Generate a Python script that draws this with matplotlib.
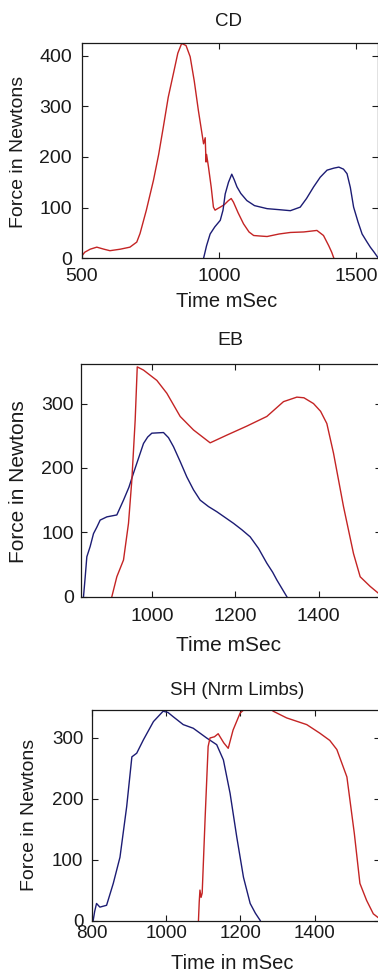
import matplotlib
matplotlib.use("Agg")
import matplotlib.pyplot as plt

plt.rcParams['font.family'] = ['Liberation Sans', 'DejaVu Sans']

RED = '#c42424'
BLUE = '#1c1c74'
TXT = '#1a1a1a'

# ---- Panel 1: CD ----
cd_red_x = [500, 510, 530, 554, 580, 602, 640, 675, 700, 712, 735, 761, 780, 797, 815, 834, 850, 864,
            880, 895, 910, 925, 944, 950, 953, 955, 962, 972, 980, 986, 995, 1005, 1020, 1035, 1045,
            1053, 1070, 1090, 1110, 1127, 1150, 1176, 1220, 1261, 1310, 1358, 1382, 1401, 1412, 1420]
cd_red_y = [5, 12, 18, 22, 18, 15, 18, 22, 32, 49, 95, 154, 205, 259, 318, 365, 405, 424,
            420, 398, 350, 292, 226, 238, 190, 205, 180, 140, 101, 95, 98, 101, 106, 114, 118,
            111, 90, 68, 52, 45, 44, 43, 48, 51, 52, 55, 45, 25, 12, 0]
cd_blue_x = [944, 955, 968, 985, 1005, 1015, 1023, 1035, 1047, 1056, 1066, 1080, 1102, 1130, 1176,
             1220, 1261, 1297, 1320, 1346, 1370, 1395, 1420, 1438, 1455, 1468, 1480, 1492, 1508,
             1523, 1540, 1553, 1567, 1580]
cd_blue_y = [0, 25, 48, 62, 75, 95, 127, 150, 166, 155, 141, 128, 114, 104, 98,
             96, 94, 101, 118, 141, 160, 174, 178, 180, 176, 167, 140, 101, 72,
             48, 33, 22, 12, 2]

# ---- Panel 2: EB ----
eb_blue_x = [836, 840, 844, 852, 860, 868, 876, 892, 916, 932, 945, 956, 968, 980, 990, 1000, 1028,
             1040, 1052, 1068, 1084, 1100, 1116, 1136, 1156, 1176, 1196, 1216, 1236, 1256, 1276,
             1290, 1300, 1312, 1324]
eb_blue_y = [0, 30, 62, 78, 98, 108, 119, 124, 127, 150, 170, 192, 215, 238, 248, 254, 255,
             247, 233, 210, 186, 166, 150, 140, 132, 123, 114, 104, 93, 75, 52,
             38, 26, 13, 0]
eb_red_x = [904, 916, 932, 944, 952, 960, 965, 980, 1012, 1036, 1068, 1100, 1140, 1180, 1228,
            1276, 1316, 1348, 1365, 1388, 1405, 1420, 1436, 1460, 1484, 1500, 1524, 1550]
eb_red_y = [0, 31, 57, 114, 181, 274, 357, 352, 336, 316, 280, 259, 239, 251, 265,
            280, 303, 310, 309, 300, 288, 269, 223, 140, 67, 31, 16, 2]

# ---- Panel 3: SH (Nrm Limbs) ----
sh_blue_x = [804, 808, 813, 822, 840, 858, 876, 894, 908, 921, 939, 966, 992, 1005, 1019, 1046,
             1073, 1109, 1136, 1154, 1172, 1190, 1208, 1226, 1240, 1253]
sh_blue_y = [0, 15, 28, 22, 25, 61, 104, 187, 269, 275, 297, 327, 344, 342, 335, 322,
             316, 300, 289, 264, 209, 137, 71, 28, 12, 0]
sh_red_x = [1087, 1089, 1091, 1094, 1097, 1105, 1113, 1118, 1130, 1140, 1155, 1167, 1180, 1199,
            1216, 1240, 1265, 1288, 1324, 1378, 1413, 1440, 1459, 1486, 1506, 1521, 1539, 1557,
            1580]
sh_red_y = [0, 30, 50, 38, 45, 170, 286, 300, 302, 307, 292, 283, 313, 341,
            350, 356, 356, 344, 333, 322, 308, 296, 281, 236, 143, 61, 33, 11,
            0]

W, H = 378, 973
fig = plt.figure(figsize=(W / 100, H / 100), dpi=100)
fig.patch.set_facecolor('white')


def make_ax(l, r, t, b):
    return fig.add_axes([l / W, 1 - b / H, (r - l) / W, (b - t) / H])


def ftext(x, y, s, **kw):
    fig.text(x / W, 1 - y / H, s, color=TXT, **kw)


panels = [
    dict(box=(82, 377.7, 43, 258.3), title='CD', xlabel='Time mSec', xlim=(500, 1580), ylim=(0, 425),
         xt=[500, 1000, 1500], yt=[0, 100, 200, 300, 400],
         lines=[(cd_red_x, cd_red_y, RED), (cd_blue_x, cd_blue_y, BLUE)],
         tick_fs=14, xpad=7.0, ypad=7.2,
         title_xy=(228, 26), title_fs=13.5,
         xl_xy=(227, 307), xl_fs=14.5,
         yl_xy=(18.5, 152), yl_fs=14),
    dict(box=(81, 381, 364.3, 596.7), title='EB', xlabel='Time mSec', xlim=(830, 1550), ylim=(0, 361),
         xt=[1000, 1200, 1400], yt=[0, 100, 200, 300],
         lines=[(eb_blue_x, eb_blue_y, BLUE), (eb_red_x, eb_red_y, RED)],
         tick_fs=14, xpad=8.0, ypad=5.0,
         title_xy=(230, 345), title_fs=14,
         xl_xy=(228, 651), xl_fs=15,
         yl_xy=(19, 482), yl_fs=15),
    dict(box=(91.7, 380, 710, 920.5), title='SH (Nrm Limbs)', xlabel='Time in mSec', xlim=(800, 1575),
         ylim=(0, 346), xt=[800, 1000, 1200, 1400], yt=[0, 100, 200, 300],
         lines=[(sh_blue_x, sh_blue_y, BLUE), (sh_red_x, sh_red_y, RED)],
         tick_fs=13.5, xpad=3.0, ypad=6.0,
         title_xy=(237, 695), title_fs=13.5,
         xl_xy=(232.5, 969), xl_fs=14.5,
         yl_xy=(30, 815), yl_fs=14),
]

for p in panels:
    ax = make_ax(*p['box'])
    for x, y, c in p['lines']:
        ax.plot(x, y, color=c, lw=1.0)
    ax.set_xlim(*p['xlim'])
    ax.set_ylim(*p['ylim'])
    ax.set_xticks(p['xt'])
    ax.set_yticks(p['yt'])
    ax.tick_params(direction='in', length=4, width=0.8, top=True, right=True,
                   labelsize=p['tick_fs'], colors=TXT)
    ax.tick_params(axis='x', pad=p['xpad'])
    ax.tick_params(axis='y', pad=p['ypad'])
    for s in ax.spines.values():
        s.set_linewidth(0.9)
        s.set_color(TXT)
    ftext(*p['title_xy'], p['title'], ha='center', va='baseline', fontsize=p['title_fs'])
    ftext(*p['xl_xy'], p['xlabel'], ha='center', va='baseline', fontsize=p['xl_fs'])
    ftext(*p['yl_xy'], 'Force in Newtons', ha='center', va='center', rotation=90,
          fontsize=p['yl_fs'])

fig.savefig('out.png', dpi=100, facecolor='white')
